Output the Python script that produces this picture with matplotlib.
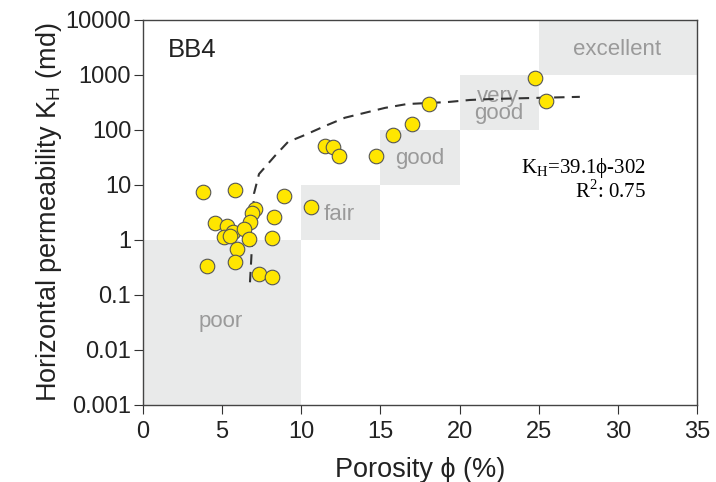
import matplotlib
matplotlib.use("Agg")
import matplotlib.pyplot as plt
import numpy as np

plt.rcParams['font.family'] = ['Liberation Sans', 'DejaVu Sans']

# sample points
porosity = [3.81, 5.81, 8.91, 10.59, 7.08, 6.87, 6.76, 8.28, 4.55, 5.33,
            5.70, 6.40, 5.12, 5.50, 6.72, 8.13, 5.92, 5.81, 4.02, 7.33,
            8.13, 11.50, 12.02, 12.40, 14.70, 15.81, 17.01, 18.09, 24.76, 25.44]
perm = [7.5, 8.1, 6.3, 3.9, 3.6, 3.05, 2.1, 2.6, 2.0, 1.8,
        1.4, 1.58, 1.12, 1.18, 1.03, 1.07, 0.68, 0.40, 0.34, 0.24,
        0.21, 51, 48, 34, 34, 81, 126, 295, 890, 340]

# dashed trend line
trend_x = [6.76, 6.85, 7.01, 7.33, 8.34, 9.16, 10.23, 11.50, 12.76, 14.02,
           15.29, 16.68, 19.27, 20.66, 22.05, 27.6]
trend_y = [0.17, 0.50, 6.9, 15.8, 33.9, 60.5, 81, 118, 167, 205,
           252, 296, 322, 351, 366, 400]

# reservoir quality classes
classes = ['poor', 'fair', 'good', 'very\ngood', 'excellent']
class_x0 = [0, 10, 15, 20, 25]
class_x1 = [10, 15, 20, 25, 35]
class_y0 = [0.001, 1, 10, 100, 1000]
class_y1 = [1, 10, 100, 1000, 10000]
label_x = [4.92, 12.4, 17.5, 22.45, 29.96]
label_y = [0.033, 2.85, 30.5, 285, 2930]

yticks = [0.001, 0.01, 0.1, 1, 10, 100, 1000, 10000]
ytick_labels = ['0.001', '0.01', '0.1', '1', '10', '100', '1000', '10000']

fig = plt.figure(figsize=(7.16, 4.82), dpi=100)
ax = fig.add_axes([0.1997, 0.1598, 0.7737, 0.7988])

for x0, x1, y0, y1 in zip(class_x0, class_x1, class_y0, class_y1):
    ax.fill_between([x0, x1], y0, y1, color='#e9eaea', lw=0, zorder=0)
for name, lx, ly in zip(classes, label_x, label_y):
    ax.text(lx, ly, name, ha='center', va='center', fontsize=16,
            color='#9a9a9a', linespacing=0.8, zorder=1)

ax.plot(trend_x, trend_y, color='#333333', lw=1.5, dashes=(5, 3.5), zorder=2)
ax.scatter(porosity, perm, s=110, c='#ffe600', edgecolors='#555555',
           linewidths=0.8, zorder=3)

ax.text(1.58, 2900, 'BB4', fontsize=18.5, va='center', ha='left', color='#222222')
ax.text(31.76, 16.5, r'K$_\mathregular{H}$=39.1ϕ-302', fontsize=15,
        family=['Liberation Serif', 'DejaVu Serif'], ha='right', va='baseline')
ax.text(31.76, 5.9, r'R$^\mathregular{2}$: 0.75', fontsize=15,
        family=['Liberation Serif', 'DejaVu Serif'], ha='right', va='baseline')

ax.set_yscale('log')
ax.set_xlim(0, 35)
ax.set_ylim(0.001, 10000)
ax.set_xticks(np.arange(0, 36, 5))
ax.set_yticks(yticks)
ax.set_yticklabels(ytick_labels)
ax.minorticks_off()
ax.tick_params(direction='out', length=6.5, width=0.8, colors='#333333',
               labelsize=17, labelcolor='#222222', pad=2)
ax.tick_params(axis='x', pad=5)
for sp in ax.spines.values():
    sp.set_color('#444444')
    sp.set_linewidth(1)

ax.set_xlabel('Porosity ϕ (%)', fontsize=19.5, color='#222222', labelpad=10)
ax.set_ylabel(r'Horizontal permeability K$_\mathregular{H}$ (md)', fontsize=19.5,
              color='#222222', labelpad=1)

fig.savefig('out.png', dpi=100)
